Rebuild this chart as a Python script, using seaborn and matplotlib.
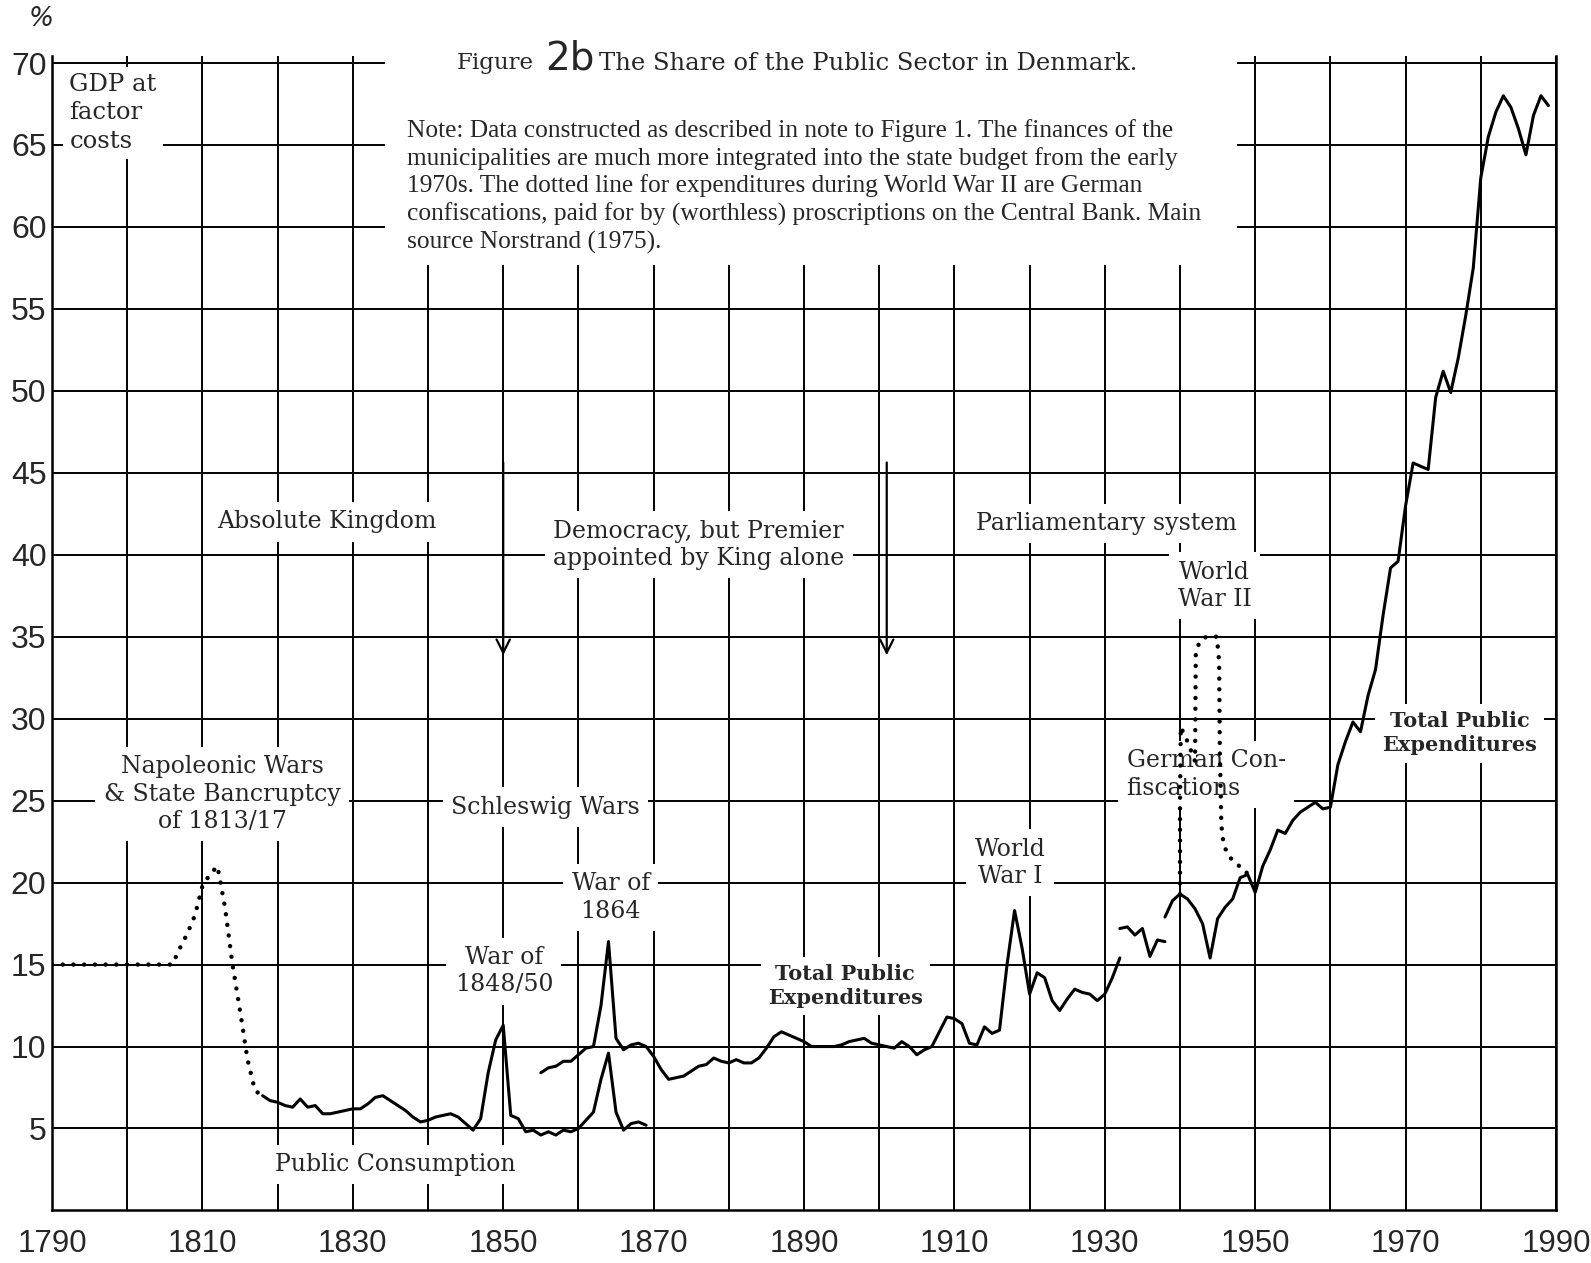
import matplotlib
matplotlib.use("Agg")
import matplotlib.pyplot as plt
from matplotlib.patches import Rectangle
import numpy as np
import pandas as pd
import seaborn as sns

# --- data (% of GDP at factor costs) ---

# early estimates, drawn dotted
early_years = list(range(1790, 1819))
early_share = [15.0, 15.0, 15.0, 15.0, 15.0, 15.0, 15.0, 15.0, 15.0, 15.0,
               15.0, 15.0, 15.0, 15.0, 15.0, 15.0, 15.0, 16.0, 16.9, 18.0,
               19.8, 20.5, 21.0, 18.5, 15.0, 12.2, 9.2, 7.3, 7.0]

# public consumption 1818-1869
cons_years = list(range(1818, 1870))
cons_share = [7.0, 6.7, 6.6, 6.4, 6.3, 6.8, 6.3, 6.4, 5.9, 5.9,
              6.0, 6.1, 6.2, 6.2, 6.5, 6.9, 7.0, 6.7, 6.4, 6.1,
              5.7, 5.4, 5.5, 5.7, 5.8, 5.9, 5.7, 5.3, 4.9, 5.6,
              8.4, 10.4, 11.3, 5.8, 5.6, 4.8, 4.9, 4.6, 4.8, 4.6,
              4.9, 4.8, 5.0, 5.5, 6.0, 8.0, 9.6, 6.0, 4.9, 5.3,
              5.4, 5.2]

# total public expenditures, three pieces
tot1_years = list(range(1855, 1933))
tot1_share = [8.4, 8.7, 8.8, 9.1, 9.1, 9.5, 9.9, 10.0, 12.5, 16.4,
              10.5, 9.8, 10.1, 10.2, 10.0, 9.4, 8.6, 8.0, 8.1, 8.2,
              8.5, 8.8, 8.9, 9.3, 9.1, 9.0, 9.2, 9.0, 9.0, 9.3,
              9.9, 10.6, 10.9, 10.7, 10.5, 10.3, 10.0, 10.0, 10.0, 10.0,
              10.1, 10.3, 10.4, 10.5, 10.2, 10.1, 10.0, 9.9, 10.3, 10.0,
              9.5, 9.8, 10.0, 10.9, 11.8, 11.7, 11.4, 10.2, 10.1, 11.2,
              10.8, 11.0, 15.0, 18.3, 16.0, 13.2, 14.5, 14.2, 12.8, 12.2,
              12.9, 13.5, 13.3, 13.2, 12.8, 13.2, 14.2, 15.4]

tot2_years = list(range(1932, 1939))
tot2_share = [17.2, 17.3, 16.8, 17.2, 15.5, 16.5, 16.4]

tot3_years = list(range(1938, 1990))
tot3_share = [17.9, 18.9, 19.3, 19.0, 18.4, 17.5, 15.4, 17.8, 18.5, 19.0,
              20.3, 20.5, 19.4, 21.0, 22.0, 23.2, 23.0, 23.8, 24.3, 24.6,
              24.9, 24.5, 24.6, 27.2, 28.6, 29.8, 29.2, 31.4, 33.0, 36.3,
              39.2, 39.6, 43.0, 45.6, 45.4, 45.2, 49.6, 51.2, 49.9, 52.0,
              54.6, 57.5, 63.0, 65.5, 67.0, 68.0, 67.3, 66.0, 64.4, 66.8,
              68.0, 67.4]

# German confiscations during WWII, drawn dotted
ww2_years = [1940.0, 1940.0, 1940.1, 1941.0, 1942.0, 1942.1, 1942.6, 1943.5,
             1944.9, 1945.2, 1945.3, 1945.5, 1945.8, 1946.5, 1947.6, 1948.6, 1949.0]
ww2_share = [19.3, 25.0, 29.5, 28.6, 27.4, 34.0, 34.7, 35.0,
             35.0, 33.5, 28.0, 23.5, 22.3, 21.6, 21.1, 20.8, 20.5]

x_labels = [1790, 1810, 1830, 1850, 1870, 1890, 1910, 1930, 1950, 1970, 1990]
y_labels = [5, 10, 15, 20, 25, 30, 35, 40, 45, 50, 55, 60, 65, 70]

note = ("Note: Data constructed as described in note to Figure 1. The finances of the\n"
        "municipalities are much more integrated into the state budget from the early\n"
        "1970s. The dotted line for expenditures during World War II are German\n"
        "confiscations, paid for by (worthless) proscriptions on the Central Bank. Main\n"
        "source Norstrand (1975).")

solid = pd.concat([
    pd.DataFrame({"year": cons_years, "share": cons_share, "piece": "consumption"}),
    pd.DataFrame({"year": tot1_years, "share": tot1_share, "piece": "total1"}),
    pd.DataFrame({"year": tot2_years, "share": tot2_share, "piece": "total2"}),
    pd.DataFrame({"year": tot3_years, "share": tot3_share, "piece": "total3"}),
], ignore_index=True)

dotted = pd.concat([
    pd.DataFrame({"year": early_years, "share": early_share, "piece": "early"}),
    pd.DataFrame({"year": ww2_years, "share": ww2_share, "piece": "ww2"}),
], ignore_index=True)

sns.set_theme(style="white")
plt.rcParams["font.family"] = ["DejaVu Serif", "DejaVu Sans"]

fig = plt.figure(figsize=(15.91, 12.63), dpi=100)
ax = fig.add_axes([0.0327, 0.0416, 0.9453, 0.9137])

sns.lineplot(data=solid, x="year", y="share", units="piece", estimator=None,
             color="black", lw=2.2, zorder=4, ax=ax, legend=False)
sns.lineplot(data=dotted, x="year", y="share", units="piece", estimator=None,
             sort=False, color="black", lw=3.2, linestyle=(0, (0.01, 2.4)),
             dash_capstyle="round", zorder=4, ax=ax, legend=False)

ax.set_xlim(1790, 1990)
ax.set_ylim(0, 70.4)
ax.set_xticks(x_labels, labels=[str(v) for v in x_labels], fontsize=22.5,
              fontfamily="Liberation Sans")
ax.set_xticks(list(range(1800, 1990, 20)), minor=True)
ax.set_yticks(y_labels, labels=[str(v) for v in y_labels], fontsize=23,
              fontfamily="Liberation Sans")
ax.tick_params(axis="x", which="both", length=0, pad=13)
ax.tick_params(axis="y", length=3, width=1.2, pad=1, color="black")
ax.set_axisbelow(True)
ax.grid(axis="x", which="both", color="black", lw=1.4)
ax.grid(axis="y", which="major", color="black", lw=1.4)
ax.set_xlabel("")
ax.set_ylabel("")
for side in ["left", "right", "bottom"]:
    ax.spines[side].set_color("black")
    ax.spines[side].set_linewidth(1.8)
ax.spines["top"].set_visible(False)

# blank area behind title and note
ax.add_patch(Rectangle((1834.3, 57.7), 113.3, 13.5, facecolor="white",
                       edgecolor="none", zorder=2.6, clip_on=False))

ax.text(1788.6, 72.7, "%", fontsize=19, fontfamily="DejaVu Sans", style="italic",
        ha="center", va="center", clip_on=False)
ax.text(1854.0, 70.0, "Figure", fontsize=16.5, ha="right", va="center", zorder=3)
ax.text(1858.9, 70.3, "2b", fontsize=28, fontfamily="DejaVu Sans", ha="center",
        va="center", zorder=3)
ax.text(1862.8, 70.0, "The Share of the Public Sector in Denmark.", fontsize=17.5,
        ha="left", va="center", zorder=3)
ax.text(1837.2, 66.6, note, fontsize=18.3, fontfamily="Liberation Serif",
        ha="left", va="top", linespacing=1.27, zorder=3)

box = dict(facecolor="white", edgecolor="none", boxstyle="square,pad=0.35")

ax.text(1792.3, 69.4, "GDP at\nfactor\ncosts", fontsize=17.5, ha="left", va="top",
        linespacing=1.3, zorder=3, bbox=dict(facecolor="white", edgecolor="none",
                                             boxstyle="square,pad=0.25"))

labels = [
    (1826.6, 42.0, "Absolute Kingdom", "normal"),
    (1876.0, 40.6, "Democracy, but Premier\nappointed by King alone", "normal"),
    (1930.2, 41.9, "Parliamentary system", "normal"),
    (1944.6, 38.1, "World\nWar II", "normal"),
    (1812.6, 25.4, "Napoleonic Wars\n& State Bancruptcy\nof 1813/17", "normal"),
    (1855.6, 24.6, "Schleswig Wars", "normal"),
    (1864.3, 19.1, "War of\n1864", "normal"),
    (1850.1, 14.6, "War of\n1848/50", "normal"),
    (1895.5, 13.7, "Total Public\nExpenditures", "bold"),
    (1917.4, 21.2, "World\nWar I", "normal"),
    (1977.2, 29.1, "Total Public\nExpenditures", "bold"),
    (1835.7, 2.8, "Public Consumption", "normal"),
]
for x, y, txt, weight in labels:
    ax.text(x, y, txt, fontsize=17 if weight == "normal" else 15, fontweight=weight,
            ha="center", va="center", linespacing=1.25, zorder=3, bbox=box)

ax.text(1932.9, 26.6, "German Con-\nfiscations", fontsize=17, ha="left", va="center",
        linespacing=1.25, zorder=3, bbox=box)

for xa in [1850.0, 1901.0]:
    ax.annotate("", xy=(xa, 33.7), xytext=(xa, 45.8),
                arrowprops=dict(arrowstyle="->", lw=1.6, color="black",
                                mutation_scale=24), zorder=3.5)

fig.savefig("out.png", dpi=100)
